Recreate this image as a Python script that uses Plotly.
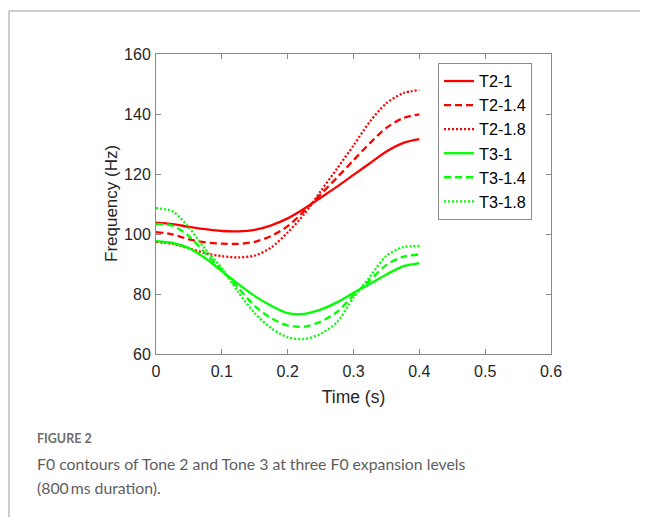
import plotly.graph_objects as go

# ---- data ----
time_s = [0, 0.025, 0.05, 0.075, 0.1, 0.125, 0.15, 0.175, 0.2, 0.225,
          0.25, 0.275, 0.3, 0.325, 0.35, 0.375, 0.4]

t2_1 = [103.8, 103.3, 102.4, 101.6, 101.0, 100.9, 101.4, 102.9, 105.2, 108.4,
        112.1, 115.8, 119.7, 123.6, 127.5, 130.3, 131.6]
t2_14 = [100.6, 99.9, 98.2, 97.2, 96.8, 96.7, 97.4, 99.3, 102.6, 107.6,
         113.2, 118.8, 124.6, 130.3, 135.4, 138.6, 139.9]
t2_18 = [97.4, 96.7, 95.2, 93.6, 92.6, 92.2, 92.8, 95.5, 100.5, 106.6,
         114.2, 121.8, 129.5, 137.5, 143.6, 146.9, 148.0]
t3_1 = [97.6, 97.0, 95.3, 91.9, 87.6, 83.3, 79.3, 76.1, 73.6, 73.4,
        74.8, 77.2, 80.4, 83.4, 86.5, 89.2, 90.3]
t3_14 = [103.4, 102.8, 99.3, 93.5, 88.0, 82.0, 76.0, 71.9, 69.5, 69.1,
         70.8, 74.0, 79.6, 84.6, 89.7, 92.4, 93.2]
t3_18 = [108.6, 107.6, 102.2, 94.9, 88.6, 80.6, 73.6, 68.6, 65.6, 65.0,
         66.7, 70.6, 78.8, 85.8, 92.7, 95.6, 96.0]

series_names = ["T2-1", "T2-1.4", "T2-1.8", "T3-1", "T3-1.4", "T3-1.8"]
series_values = [t2_1, t2_14, t2_18, t3_1, t3_14, t3_18]
series_colors = ["#ff0000", "#ff0000", "#ff0000", "#00ff00", "#00ff00", "#00ff00"]
series_dashes = ["solid", "7px,4px", "2px,2px", "solid", "7px,4px", "2px,2px"]

x_ticks = [0, 0.1, 0.2, 0.3, 0.4, 0.5, 0.6]
x_tick_labels = ["0", "0.1", "0.2", "0.3", "0.4", "0.5", "0.6"]
y_ticks = [60, 80, 100, 120, 140, 160]

x_title = "Time (s)"
y_title = "Frequency (Hz)"
caption_label = "FIGURE 2"
caption_line1 = "F0 contours of Tone 2 and Tone 3 at three F0 expansion levels"
caption_line2 = "(800\u2009ms duration)."

# ---- figure ----
# the page body has an 8px margin, so the figure is laid out in page coords minus 8
OFF = 8
W, H = 648 - OFF, 517 - OFF
L, R, T, B = 156 - OFF, 551 - OFF, 54 - OFF, 354 - OFF  # plot area in figure pixels

fig = go.Figure()
for name, vals, col, dash in zip(series_names, series_values, series_colors, series_dashes):
    fig.add_trace(go.Scatter(
        x=time_s, y=vals, mode="lines", name=name,
        line=dict(color=col, width=2.3, dash=dash, shape="spline", smoothing=0.8),
    ))

FONT = "Liberation Sans, Arial, sans-serif"
TXT = "#262626"
axis_font = dict(family=FONT, size=16, color=TXT)
axis_common = dict(
    showgrid=False, zeroline=False, showline=True, linecolor="#8a8a8a", linewidth=1,
    mirror="ticks", ticks="inside", ticklen=5, tickcolor="#8a8a8a", tickwidth=1,
    tickfont=axis_font,
)

fig.update_xaxes(
    range=[0, 0.6], tickvals=x_ticks, ticktext=x_tick_labels,
    title=dict(text=x_title, font=dict(family=FONT, size=17.5, color=TXT), standoff=11),
    ticklabelstandoff=3,
    **axis_common,
)
fig.update_yaxes(
    range=[60, 160], tickvals=y_ticks,
    ticklabelstandoff=1,
    **axis_common,
)

def pgx(px):
    """page pixel x -> paper coordinate"""
    return (px - OFF - L) / (R - L)

def pgy(py):
    """page pixel y -> paper coordinate"""
    return (B - (py - OFF)) / (B - T)

fig.update_layout(
    width=W, height=H,
    margin=dict(l=L, r=W - R, t=T, b=H - B, pad=0, autoexpand=False),
    paper_bgcolor="white", plot_bgcolor="white",
    font=dict(family=FONT),
    legend=dict(
        x=pgx(438), y=pgy(63), xanchor="left", yanchor="top",
        bgcolor="white", bordercolor="#8a8a8a", borderwidth=1,
        font=dict(family=FONT, size=16.2, color="#000000"),
        itemwidth=30, tracegroupgap=0,
    ),
    showlegend=True,
)

# y-axis title placed as rotated text
fig.add_annotation(text=y_title, xref="paper", yref="paper", x=pgx(111), y=0.5,
                   xanchor="center", yanchor="middle", textangle=-90, showarrow=False,
                   font=dict(family=FONT, size=17, color=TXT))

# outer page frame (left and top grey rules)
fig.add_shape(type="line", xref="paper", yref="paper",
              x0=pgx(9), x1=pgx(9), y0=pgy(11), y1=pgy(520),
              line=dict(color="#bdbdbd", width=1.5))
fig.add_shape(type="line", xref="paper", yref="paper",
              x0=pgx(9), x1=pgx(650), y0=pgy(11), y1=pgy(11),
              line=dict(color="#bdbdbd", width=1.5))

cap_font = "Lato, Open Sans, sans-serif"
fig.add_annotation(text=caption_label, xref="paper", yref="paper",
                   x=pgx(35), y=pgy(439), xanchor="left", yanchor="middle",
                   showarrow=False, font=dict(family=cap_font, size=12.5, color="#6e6e6e", weight=700))
fig.add_annotation(text=caption_line1, xref="paper", yref="paper",
                   x=pgx(35), y=pgy(463), xanchor="left", yanchor="middle",
                   showarrow=False, font=dict(family=cap_font, size=15.8, color="#5e5e5e"))
fig.add_annotation(text=caption_line2, xref="paper", yref="paper",
                   x=pgx(35), y=pgy(487), xanchor="left", yanchor="middle",
                   showarrow=False, font=dict(family=cap_font, size=15.8, color="#5e5e5e"))

fig.write_html("out.html")
